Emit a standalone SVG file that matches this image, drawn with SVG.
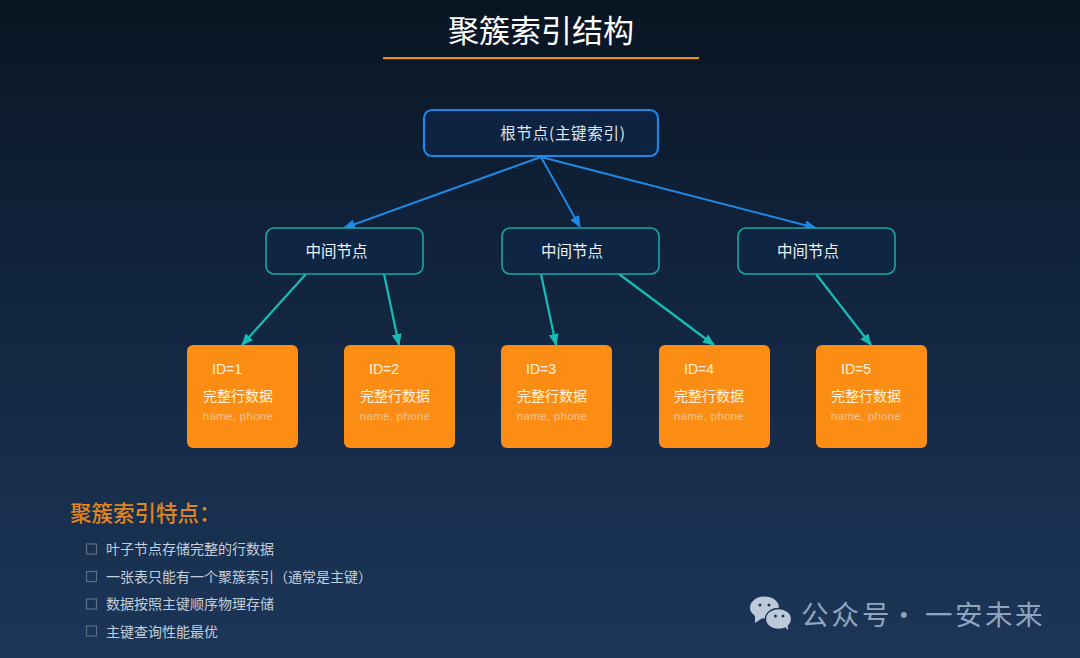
<svg xmlns="http://www.w3.org/2000/svg" width="1080" height="658" viewBox="0 0 1080 658">
<defs>
<linearGradient id="bg" x1="0" y1="0" x2="0" y2="1"><stop offset="0" stop-color="#0a1522"/><stop offset="0.35" stop-color="#10223a"/><stop offset="1" stop-color="#1c3659"/></linearGradient>
<marker id="ab" markerWidth="12" markerHeight="10" refX="11" refY="5" orient="auto" markerUnits="userSpaceOnUse"><path d="M0 0L12 5L0 10Z" fill="#1e88e5"/></marker>
<marker id="at" markerWidth="12" markerHeight="10" refX="11" refY="5" orient="auto" markerUnits="userSpaceOnUse"><path d="M0 0L12 5L0 10Z" fill="#17bdb5"/></marker>
</defs>
<style>
text{font-family:"Noto Sans CJK SC","Liberation Sans",sans-serif}
.mid rect{fill:#0e2644;stroke:#17a79f;stroke-width:1.6}
.mid text{fill:#eef3f8;font-size:15.5px;text-anchor:middle}
.leaf rect{fill:#fb8d14;stroke:none}
.id{fill:#fff1dc;font-size:14px;font-family:"Liberation Sans",sans-serif}
.full{fill:#fff1dc;font-size:14px;text-anchor:middle}
.small{fill:#f5c48c;font-size:11.5px;text-anchor:middle;font-family:"Liberation Sans",sans-serif;letter-spacing:.3px}
.b{stroke:#1e88e5;stroke-width:2;fill:none;marker-end:url(#ab)}
.t{stroke:#17bdb5;stroke-width:2.2;fill:none;marker-end:url(#at)}
.item{fill:#c4ced9;font-size:14px}
.box{fill:none;stroke:#5d6f85;stroke-width:1.2}
.chat{fill:#bcc9d8}
.dot{fill:#1b3558}
</style>
<rect width="1080" height="658" fill="url(#bg)"/>
<g id="title">
<text x="541" y="42" font-size="31" fill="#fff" text-anchor="middle">聚簇索引结构</text>
<rect x="383" y="57" width="316" height="2.200" fill="#f08c1a"/>
</g>
<g id="connectors">
<path class="b" d="M541 157L344 228"/>
<path class="b" d="M541 157L580 227"/>
<path class="b" d="M541 157L816 228"/>
<path class="t" d="M306 274L242 345"/>
<path class="t" d="M384 274L399 345"/>
<path class="t" d="M541 274L556 345"/>
<path class="t" d="M619 274L714 345"/>
<path class="t" d="M816 274L871 345"/>
</g>
<g id="root">
<rect x="424" y="110" width="234" height="46" rx="8" fill="#0e2342" stroke="#1e88e5" stroke-width="2.200"/>
<text x="563" y="139" font-size="15.5" letter-spacing=".7" fill="#dfe6ee" text-anchor="middle">根节点(主键索引)</text>
</g>
<g id="mid1" class="mid"><rect x="266" y="228" width="157" height="46" rx="8"/><text x="336.500" y="257">中间节点</text></g>
<g id="mid2" class="mid"><rect x="502" y="228" width="157" height="46" rx="8"/><text x="572" y="257">中间节点</text></g>
<g id="mid3" class="mid"><rect x="738" y="228" width="157" height="46" rx="8"/><text x="808" y="257">中间节点</text></g>
<g id="leaf1" class="leaf"><rect x="187" y="345" width="111" height="103" rx="6"/><text class="id" x="212" y="374">ID=1</text><text class="full" x="238" y="401">完整行数据</text><text class="small" x="238" y="420">name, phone</text></g>
<g id="leaf2" class="leaf"><rect x="344" y="345" width="111" height="103" rx="6"/><text class="id" x="369" y="374">ID=2</text><text class="full" x="395" y="401">完整行数据</text><text class="small" x="395" y="420">name, phone</text></g>
<g id="leaf3" class="leaf"><rect x="501" y="345" width="111" height="103" rx="6"/><text class="id" x="526" y="374">ID=3</text><text class="full" x="552" y="401">完整行数据</text><text class="small" x="552" y="420">name, phone</text></g>
<g id="leaf4" class="leaf"><rect x="659" y="345" width="111" height="103" rx="6"/><text class="id" x="684" y="374">ID=4</text><text class="full" x="709" y="401">完整行数据</text><text class="small" x="709" y="420">name, phone</text></g>
<g id="leaf5" class="leaf"><rect x="816" y="345" width="111" height="103" rx="6"/><text class="id" x="841" y="374">ID=5</text><text class="full" x="866" y="401">完整行数据</text><text class="small" x="866" y="420">name, phone</text></g>
<g id="features">
<text x="70" y="521" font-size="21.500" font-weight="500" fill="#e0851f">聚簇索引特点：</text>
<rect class="box" x="86.500" y="544" width="10" height="10"/><text class="item" x="106" y="554">叶子节点存储完整的行数据</text>
<rect class="box" x="86.500" y="571.500" width="10" height="10"/><text class="item" x="106" y="582">一张表只能有一个聚簇索引（通常是主键）</text>
<rect class="box" x="86.500" y="599" width="10" height="10"/><text class="item" x="106" y="609">数据按照主键顺序物理存储</text>
<rect class="box" x="86.500" y="626" width="10" height="10"/><text class="item" x="106" y="636.500">主键查询性能最优</text>
</g>
<g id="watermark">
<ellipse class="chat" cx="764.500" cy="607.500" rx="14.500" ry="11"/>
<path class="chat" d="M755 614L755 623L764 617Z"/>
<ellipse class="chat" cx="778.500" cy="619" rx="13" ry="10.500" stroke="#1b3558" stroke-width="1.300"/>
<path class="chat" d="M784 626L788 630L787.500 623Z"/>
<circle class="dot" cx="760" cy="605" r="1.500"/><circle class="dot" cx="769" cy="605" r="1.500"/>
<circle class="dot" cx="775.500" cy="616" r="1.500"/><circle class="dot" cx="783" cy="616" r="1.500"/>
<text y="625" font-size="27.500" fill="#8fa5bf" x="801 831.500 862 890 890 920 925 955 985 1015">公众号 · 一安未来</text>
</g>
</svg>
